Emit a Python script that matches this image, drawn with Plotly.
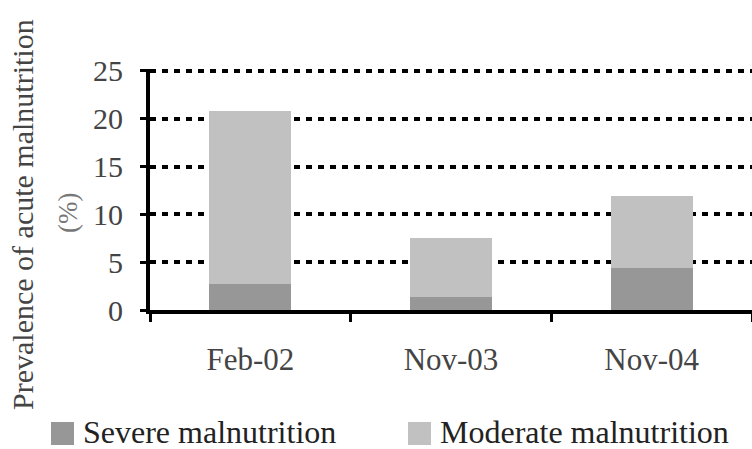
import plotly.graph_objects as go

# Survey rounds and prevalence of acute malnutrition (%)
periods = ["Feb-02", "Nov-03", "Nov-04"]
severe = [2.7, 1.4, 4.4]
moderate = [18.1, 6.1, 7.5]
series_names = ["Severe malnutrition", "Moderate malnutrition"]
series_colors = ["#979797", "#c1c1c1"]
y_ticks = [0, 5, 10, 15, 20, 25]

FONT = "Liberation Serif"
W, H = 752, 449
L, T, B = 150, 69, 139
PW, PH = W - L, H - T - B


def px_x(x):
    """Pixel x -> paper x."""
    return (x - L) / PW


def px_y(y):
    """Pixel y -> paper y."""
    return (H - B - y) / PH


fig = go.Figure()
for name, vals, col in zip(series_names, [severe, moderate], series_colors):
    fig.add_trace(go.Bar(x=periods, y=vals, name=name,
                         marker=dict(color=col, line=dict(width=0)),
                         showlegend=False))

fig.update_layout(
    barmode="stack",
    bargap=0.59,
    width=W, height=H,
    margin=dict(l=L, r=0, t=T, b=B),
    paper_bgcolor="white", plot_bgcolor="white",
    font=dict(family=FONT, color="#444444", size=30),
)

fig.update_xaxes(
    type="category",
    range=[-0.5, 2.5],
    showline=True, linecolor="black", linewidth=4,
    ticks="outside", tickson="boundaries", ticklen=8, tickwidth=3, tickcolor="black",
    tickfont=dict(family=FONT, size=31, color="#444444"),
    ticklabelstandoff=19,
    showgrid=False,
)
fig.update_yaxes(
    range=[0, 25.2],
    tickvals=y_ticks,
    showline=True, linecolor="black", linewidth=4,
    ticks="outside", ticklen=6, tickwidth=3, tickcolor="black",
    tickfont=dict(family=FONT, size=30, color="#444444"),
    ticklabelstandoff=11,
    showgrid=True, gridcolor="black", gridwidth=4, griddash="6px,6px",
    zeroline=False,
)

# Axis title, two lines
fig.add_annotation(text="Prevalence of acute malnutrition", textangle=-90,
                   xref="paper", yref="paper", x=px_x(22), y=px_y(215),
                   xanchor="center", yanchor="middle", showarrow=False,
                   font=dict(family=FONT, size=30, color="#444444"))
fig.add_annotation(text="(%)", textangle=-90,
                   xref="paper", yref="paper", x=px_x(68), y=px_y(213),
                   xanchor="center", yanchor="middle", showarrow=False,
                   font=dict(family=FONT, size=27, color="#777777"))

# Legend: swatch + label for each series
legend_x = [51, 408]
for lx, name, col in zip(legend_x, series_names, series_colors):
    fig.add_shape(type="rect", xref="paper", yref="paper",
                  x0=px_x(lx), x1=px_x(lx + 23),
                  y0=px_y(445), y1=px_y(422),
                  fillcolor=col, line=dict(width=0))
    fig.add_annotation(text=name, xref="paper", yref="paper",
                       x=px_x(lx + 30), y=px_y(432),
                       xanchor="left", yanchor="middle", showarrow=False,
                       font=dict(family=FONT, size=32, color="#222222"))

fig.write_html("out.html")
